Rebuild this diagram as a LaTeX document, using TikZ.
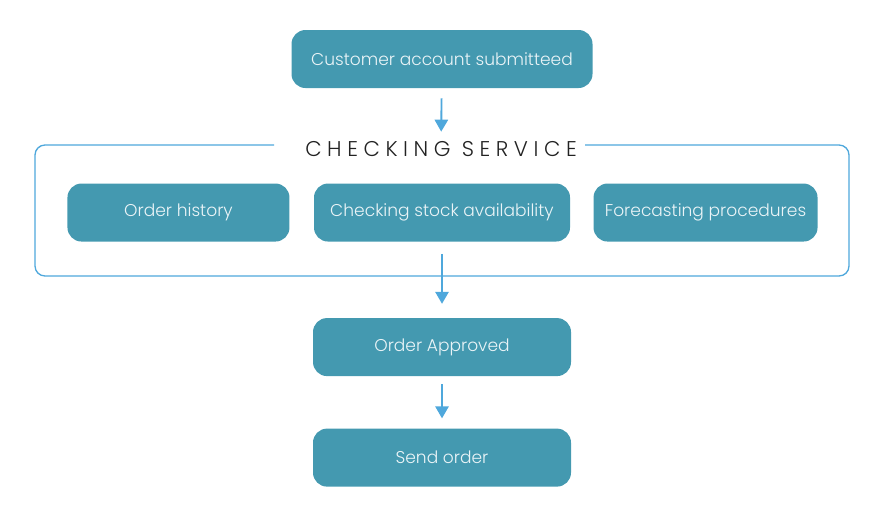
\documentclass[tikz,border=0pt]{standalone}
\usepackage{fontspec}
\setmainfont{Poppins Light}
\usepackage{xcolor}
\usepackage{tikz}
\usetikzlibrary{arrows.meta,positioning}

\definecolor{boxteal}{HTML}{4499B0}
\definecolor{flowblue}{HTML}{4FA8DC}
\definecolor{titlegray}{HTML}{222222}
\definecolor{boxtext}{HTML}{EAF4F7}

\begin{document}
\begin{tikzpicture}[x=0.75pt, y=0.75pt,
    stepbox/.style={fill=boxteal, rounded corners=10.5pt, minimum height=43.5pt, text=boxtext, font=\fontsize{12.8}{15}\selectfont, align=center},
    flow/.style={draw=flowblue, line width=1.4pt, -{Triangle[width=10pt,length=9pt]}},
    frame/.style={draw=flowblue, line width=1pt, rounded corners=7.5pt}]
        \useasboundingbox (0,0) rectangle (880,-526);

        % Request
        \node[stepbox, minimum width=225.75pt] (submit) at (442,-59) {Customer account submitteed};

        % Checking service (three checks side by side)
        \node[stepbox, minimum width=192pt, below=71.25pt of submit] (stock) {Checking stock availability};
        \node[stepbox, minimum width=166.5pt, left=18pt of stock] (history) {Order history};
        \node[stepbox, minimum width=168pt, right=17.25pt of stock] (forecast) {Forecasting procedures};

        % Title and frame with a gap for it
        \node[anchor=base, inner sep=0pt, text=titlegray, font=\fontsize{16}{19}\selectfont\addfontfeature{LetterSpace=26}] (title) at (441,-156) {CHECKING SERVICE};
        \draw[frame] (274,-145) -- (35,-145) -- (35,-276) -- (849,-276) -- (849,-145) -- (585,-145);

        % Result
        \node[stepbox, minimum width=193.5pt, below=57pt of stock] (approved) {Order Approved};
        \node[stepbox, minimum width=193.5pt, below=39pt of approved] (send) {Send order};

        % Arrows
        \draw[flow, shorten <=7.5pt, shorten >=6.75pt] (submit) -- (title);
        \draw[flow, shorten <=9pt, shorten >=10.5pt] (stock) -- (approved);
        \draw[flow, shorten <=6pt, shorten >=7.5pt] (approved) -- (send);
    \end{tikzpicture}
\end{document}
